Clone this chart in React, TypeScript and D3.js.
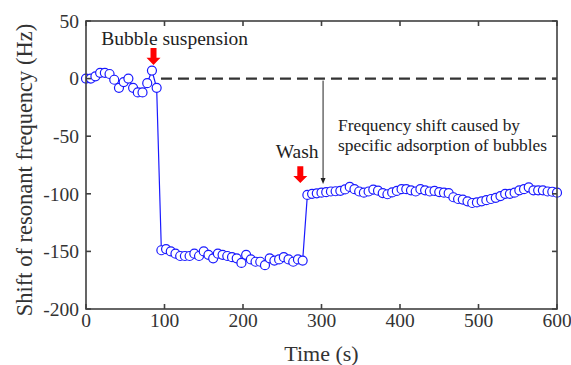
import React, { useEffect, useRef } from 'react';
import * as d3 from 'd3';

// sampling times (s)
const timeS = [
  0, 6, 12, 18, 24, 30, 36, 42, 48, 54, 60, 66, 72, 78, 84, 90,
  96, 102, 108, 114, 120, 126, 132, 138, 144, 150, 156, 162, 168, 174, 180, 186,
  192, 198, 204, 210, 216, 222, 228, 234, 240, 246, 252, 258, 264, 270, 276,
  282, 288, 294, 300, 306, 312, 318, 324, 330, 336, 342, 348, 354, 360, 366, 372,
  378, 384, 390, 396, 402, 408, 414, 420, 426, 432, 438, 444, 450, 456, 462, 468,
  474, 480, 486, 492, 498, 504, 510, 516, 522, 528, 534, 540, 546, 552, 558, 564,
  570, 576, 582, 588, 594, 600,
];

// baseline, then bubble suspension, then after wash
const baselineHz = [0, 0, 2, 5, 5, 4, -1, -8, -3, 0, -8, -12, -12, -4, 7, -8];
const suspensionHz = [
  -149, -148, -150, -152, -154, -154, -154, -152, -154, -150, -153, -156, -152, -153, -154, -155,
  -156, -160, -153, -157, -159, -159, -162, -156, -158, -157, -155, -157, -159, -157, -158,
];
const washHz = [
  -101, -100, -99.6, -99, -98.6, -98, -97.8, -97.4, -96.2, -94, -96, -98, -99, -98, -96.3, -97.3,
  -99.4, -100.4, -98.8, -97.5, -96, -96, -97, -98, -96, -97, -98, -97.5, -98.5, -99, -99.5, -103,
  -104.5, -105, -106.5, -108, -107.5, -106.5, -105.5, -104.5, -103.5, -102, -100, -100, -99, -97, -96, -94.4,
  -97, -97, -97, -98, -98.2, -99,
];

const xTicks = [0, 100, 200, 300, 400, 500, 600];
const yTicks = [50, 0, -50, -100, -150, -200];

const FONT = '"Liberation Serif", "Times New Roman", serif';
const AXIS = '#404040';

const App = () => {
  const svgRef = useRef(null);

  useEffect(() => {
    const svg = d3.select(svgRef.current);
    svg.selectAll('*').remove();

    const margin = { top: 21, right: 14, bottom: 56, left: 86 };
    const W = 571, H = 365;
    const width = W - margin.left - margin.right;
    const height = H - margin.top - margin.bottom;

    const shift = [...baselineHz, ...suspensionHz, ...washHz];
    const data = timeS.map((t, i) => ({ t, v: shift[i] }));

    const x = d3.scaleLinear().domain([0, 600]).range([0, width]);
    const y = d3.scaleLinear().domain([-200, 50]).range([height, 0]);

    const g = svg.append('g').attr('transform', `translate(${margin.left},${margin.top})`);

    // zero reference line
    g.append('line')
      .attr('x1', x(95.5)).attr('x2', x(600))
      .attr('y1', y(0)).attr('y2', y(0))
      .attr('stroke', '#333').attr('stroke-width', 2.4)
      .attr('stroke-dasharray', '11,6');

    // series
    const line = d3.line().x(d => x(d.t)).y(d => y(d.v));
    g.append('path').datum(data)
      .attr('d', line).attr('fill', 'none')
      .attr('stroke', '#1a1aff').attr('stroke-width', 1.2);

    g.selectAll('.pt').data(data).enter().append('circle')
      .attr('class', 'pt')
      .attr('cx', d => x(d.t)).attr('cy', d => y(d.v))
      .attr('r', 4.5)
      .attr('fill', 'white').attr('stroke', '#1a1aff').attr('stroke-width', 1.2);

    // frame with inward ticks
    g.append('rect').attr('width', width).attr('height', height)
      .attr('fill', 'none').attr('stroke', AXIS).attr('stroke-width', 1.6);

    const tickLen = 5;
    xTicks.forEach(t => {
      g.append('line').attr('x1', x(t)).attr('x2', x(t)).attr('y1', height).attr('y2', height - tickLen)
        .attr('stroke', AXIS).attr('stroke-width', 1.6);
      g.append('line').attr('x1', x(t)).attr('x2', x(t)).attr('y1', 0).attr('y2', tickLen)
        .attr('stroke', AXIS).attr('stroke-width', 1.6);
      g.append('text').attr('x', x(t)).attr('y', height + 18)
        .attr('text-anchor', 'middle').attr('font-family', FONT).attr('font-size', 19.5)
        .attr('fill', '#333').text(t);
    });
    yTicks.forEach(v => {
      g.append('line').attr('x1', 0).attr('x2', tickLen).attr('y1', y(v)).attr('y2', y(v))
        .attr('stroke', AXIS).attr('stroke-width', 1.6);
      g.append('line').attr('x1', width).attr('x2', width - tickLen).attr('y1', y(v)).attr('y2', y(v))
        .attr('stroke', AXIS).attr('stroke-width', 1.6);
      g.append('text').attr('x', -7).attr('y', y(v)).attr('dy', '0.35em')
        .attr('text-anchor', 'end').attr('font-family', FONT).attr('font-size', 19.5)
        .attr('fill', '#333').text(v);
    });

    // axis titles
    svg.append('text').attr('x', margin.left + width / 2).attr('y', 361)
      .attr('text-anchor', 'middle').attr('font-family', FONT).attr('font-size', 22)
      .attr('fill', '#333').text('Time (s)');
    svg.append('text')
      .attr('transform', `translate(32,170) rotate(-90)`)
      .attr('text-anchor', 'middle').attr('font-family', FONT).attr('font-size', 22.5)
      .attr('fill', '#333').text('Shift of resonant frequency (Hz)');

    // red block arrows
    const redArrow = (t, vTop, vTip) => {
      const cx = x(t), y0 = y(vTop), y1 = y(vTip);
      const yh = y1 - (y1 - y0) * 0.42;
      g.append('path')
        .attr('d', `M${cx - 3},${y0} L${cx + 3},${y0} L${cx + 3},${yh} L${cx + 7},${yh} L${cx},${y1} L${cx - 7},${yh} L${cx - 3},${yh} Z`)
        .attr('fill', '#ff0000');
    };
    redArrow(86, 26.6, 11.8);
    redArrow(273, -76, -90.7);

    g.append('text').attr('x', x(19.5)).attr('y', y(29))
      .attr('font-family', FONT).attr('font-size', 19.5).attr('fill', '#222')
      .text('Bubble suspension');
    g.append('text').attr('x', x(269)).attr('y', y(-68.7)).attr('text-anchor', 'middle')
      .attr('font-family', FONT).attr('font-size', 19.5).attr('fill', '#222')
      .text('Wash');

    // black arrow for the specific shift
    const ax = x(302);
    const tip = y(-91.5);
    g.append('line').attr('x1', ax).attr('x2', ax).attr('y1', y(0) + 2).attr('y2', tip - 4)
      .attr('stroke', '#222').attr('stroke-width', 1);
    g.append('path').attr('d', `M${ax - 2.5},${tip - 6} L${ax + 2.5},${tip - 6} L${ax},${tip} Z`)
      .attr('fill', '#222');

    g.append('text').attr('x', x(321)).attr('y', y(-45.5))
      .attr('font-family', FONT).attr('font-size', 17.4).attr('fill', '#222')
      .text('Frequency shift caused by');
    g.append('text').attr('x', x(321)).attr('y', y(-62.8))
      .attr('font-family', FONT).attr('font-size', 17.4).attr('fill', '#222')
      .text('specific adsorption of bubbles');
  }, []);

  return (
    <svg
      ref={svgRef}
      width={571}
      height={365}
      style={{ position: 'absolute', left: 0, top: 0, background: 'white' }}
    />
  );
};

export default App;
